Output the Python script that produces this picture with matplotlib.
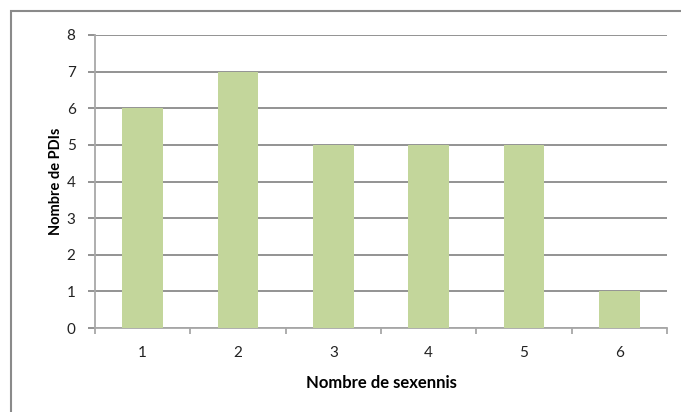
import matplotlib.pyplot as plt
from matplotlib.patches import Rectangle

categories = ["1", "2", "3", "4", "5", "6"]
counts = [6, 7, 5, 5, 5, 1]
yticks = [0, 1, 2, 3, 4, 5, 6, 7, 8]

plt.rcParams["font.family"] = ["Lato", "DejaVu Sans"]

W, H = 681, 412
fig = plt.figure(figsize=(W / 100, H / 100), dpi=100)
ax = fig.add_axes([95 / W, 1 - 328 / H, (667 - 95) / W, (328 - 35) / H])

x = list(range(len(categories)))
ax.bar(x, counts, width=0.43, color="#c3d69b", zorder=3)

ax.set_xlim(-0.5, len(categories) - 0.5)
ax.set_ylim(0, 8)
ax.set_yticks(yticks)
ax.set_yticklabels([str(v) for v in yticks], fontsize=11, color="#222222")
ax.yaxis.grid(True, color="#8a8a8a", linewidth=1.3, zorder=0)
ax.tick_params(axis="y", length=5, width=1.3, color="#8a8a8a", pad=9)

ax.set_xticks(x)
ax.set_xticklabels(categories, fontsize=11, color="#222222")
ax.tick_params(axis="x", length=0, pad=13)
ax.set_xticks([i - 0.5 for i in range(len(categories) + 1)], minor=True)
ax.tick_params(axis="x", which="minor", length=4, width=1.2, color="#a0a0a0")

for side in ["top", "right"]:
    ax.spines[side].set_visible(False)
ax.spines["left"].set_color("#a8a8a8")
ax.spines["left"].set_linewidth(1.3)
ax.spines["bottom"].set_color("#a8a8a8")
ax.spines["bottom"].set_linewidth(1.3)

ax.set_xlabel("Nombre de sexennis", fontsize=12, fontweight="bold", labelpad=11)
ax.set_ylabel("Nombre de PDIs", fontsize=10.5, fontweight="bold", labelpad=3)

fig.patches.append(Rectangle((11 / W, -0.1), 1.2, 1 - 11 / H + 0.1,
                             transform=fig.transFigure, fill=False,
                             edgecolor="#8a8a8a", linewidth=1.5))

fig.savefig("out.png", dpi=100)
